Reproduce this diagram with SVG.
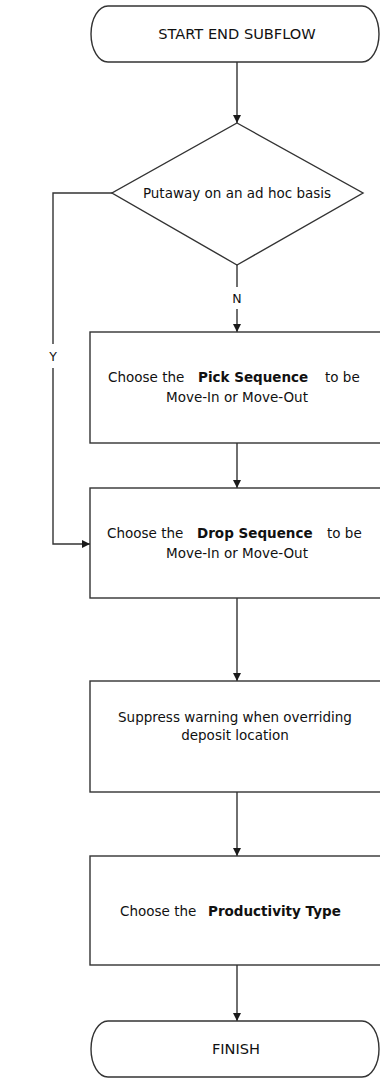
<svg xmlns="http://www.w3.org/2000/svg" width="380" height="1079" viewBox="0 0 380 1079">
<defs>
<marker id="arr" viewBox="0 0 10 10" refX="10" refY="5" markerWidth="8" markerHeight="8" markerUnits="userSpaceOnUse" orient="auto">
<path d="M0,0 L10,5 L0,10 Z" fill="#1a1a1a"/>
</marker>
<style>
.shape{fill:#fff;stroke:#333;stroke-width:1.4}
.conn{fill:none;stroke:#333;stroke-width:1.4}
text{font-family:"DejaVu Sans","Liberation Sans",sans-serif;font-size:13.5px;fill:#111}
.c{text-anchor:middle}
.b{font-weight:bold}
.cap{font-size:14.6px}
.lbl{font-size:12.5px}
</style>
</defs>
<rect width="380" height="1079" fill="#fff"/>
<g id="connectors">
<path class="conn" d="M237,62 V123" marker-end="url(#arr)"/>
<path class="conn" d="M237,265 V287"/>
<path class="conn" d="M237,309 V332" marker-end="url(#arr)"/>
<path class="conn" d="M112,193 H53 V344"/>
<path class="conn" d="M53,368 V544 H90" marker-end="url(#arr)"/>
<path class="conn" d="M237,443 V488" marker-end="url(#arr)"/>
<path class="conn" d="M237,598 V681" marker-end="url(#arr)"/>
<path class="conn" d="M237,792 V856" marker-end="url(#arr)"/>
<path class="conn" d="M237,965 V1021" marker-end="url(#arr)"/>
<text class="c lbl" x="237" y="303">N</text>
<text class="c lbl" x="53" y="361">Y</text>
</g>
<g id="start">
<path class="shape" d="M108,6 H362 A17,28 0 0 1 362,62 H108 A17,28 0 0 1 108,6 Z"/>
<text class="c cap" x="237" y="39">START END SUBFLOW</text>
</g>
<g id="decision">
<polygon class="shape" points="237,123 363,193 237,265 112,193"/>
<text class="c" x="237" y="198">Putaway on an ad hoc basis</text>
</g>
<g id="pick">
<rect class="shape" x="90" y="332" width="300" height="111"/>
<text x="108" y="382">Choose the</text>
<text class="b" x="198" y="382">Pick Sequence</text>
<text x="325" y="382">to be</text>
<text class="c" x="237" y="402">Move-In or Move-Out</text>
</g>
<g id="drop">
<rect class="shape" x="90" y="488" width="300" height="110"/>
<text x="107" y="538">Choose the</text>
<text class="b" x="197" y="538">Drop Sequence</text>
<text x="327" y="538">to be</text>
<text class="c" x="237" y="558">Move-In or Move-Out</text>
</g>
<g id="suppress">
<rect class="shape" x="90" y="681" width="300" height="111"/>
<text class="c" x="235" y="722">Suppress warning when overriding</text>
<text class="c" x="235" y="740">deposit location</text>
</g>
<g id="productivity">
<rect class="shape" x="90" y="856" width="300" height="109"/>
<text x="120" y="916">Choose the</text>
<text class="b" x="208" y="916">Productivity Type</text>
</g>
<g id="finish">
<path class="shape" d="M108,1021 H362 A17,28 0 0 1 362,1077 H108 A17,28 0 0 1 108,1021 Z"/>
<text class="c cap" x="236" y="1054">FINISH</text>
</g>
</svg>
